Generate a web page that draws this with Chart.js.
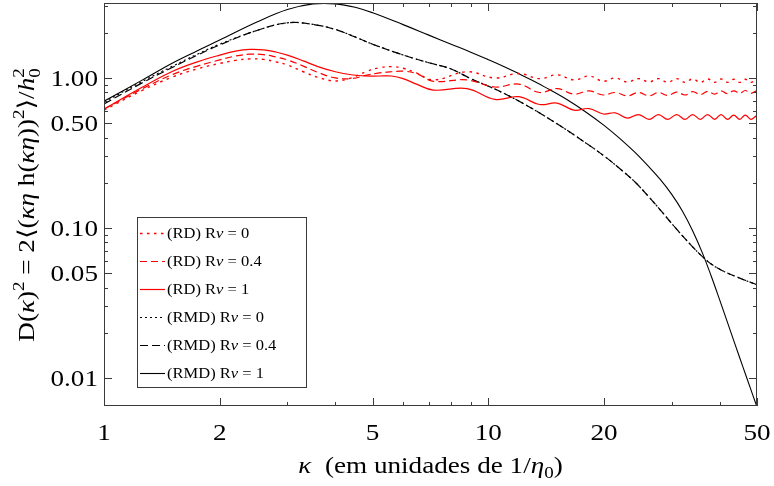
<!DOCTYPE html>
<html>
<head>
<meta charset="utf-8">
<script src="https://cdn.jsdelivr.net/npm/chart.js@4.4.1/dist/chart.umd.min.js"></script>
<style>
  html, body { margin: 0; padding: 0; background: #fff; }
</style>
</head>
<body>
<canvas id="chart" width="774" height="486"></canvas>
<script>
// values (log-log axes)
const kappaRMD = [1, 1.25, 1.5, 1.75, 2, 2.5, 3, 3.5, 4, 4.5, 5, 6, 7, 8, 9, 10, 11, 12, 13, 14, 16, 18, 20, 22, 24, 26, 28, 30, 32, 34, 36, 38, 40, 42, 44, 46, 48, 50];
const rmdNu0  = [0.69, 0.94, 1.19, 1.44, 1.68, 2.073, 2.331, 2.274, 2.105, 1.877, 1.678, 1.423, 1.263, 1.148, 0.989, 0.882, 0.787, 0.701, 0.625, 0.558, 0.449, 0.366, 0.302, 0.248, 0.204, 0.164, 0.132, 0.107, 0.0886, 0.0748, 0.0646, 0.0575, 0.0531, 0.0499, 0.0475, 0.0453, 0.0435, 0.0418];
const rmdNu04 = [0.671, 0.92, 1.17, 1.42, 1.66, 2.073, 2.331, 2.274, 2.105, 1.877, 1.678, 1.423, 1.263, 1.148, 0.989, 0.882, 0.787, 0.701, 0.625, 0.558, 0.449, 0.366, 0.302, 0.248, 0.204, 0.164, 0.132, 0.107, 0.0886, 0.0748, 0.0646, 0.0575, 0.0531, 0.0499, 0.0475, 0.0453, 0.0435, 0.0418];
const rmdNu1  = [0.70, 0.96, 1.25, 1.52, 1.79, 2.36, 2.86, 3.12, 3.12, 2.96, 2.72, 2.267, 1.93, 1.678, 1.486, 1.324, 1.188, 1.068, 0.964, 0.872, 0.718, 0.589, 0.483, 0.394, 0.321, 0.260, 0.2106, 0.1675, 0.1294, 0.0959, 0.0687, 0.0478, 0.0330, 0.0230, 0.0163, 0.01177, 0.00862, 0.0064];

const kappaRD = [1, 1.25, 1.5, 1.75, 2, 2.2, 2.4, 2.6, 2.8, 3, 3.3, 3.6, 4, 4.4, 4.8, 5.2, 5.6, 6.0, 6.5, 7.2, 8.8, 10.4, 12.0, 13.6, 15.1, 16.7, 18.3, 19.9, 21.4, 23.0, 24.6, 26.2, 27.7, 29.3, 30.9, 32.5, 34.0, 35.6, 37.2, 38.8, 40.3, 41.9, 43.5, 45.1, 46.6, 48.2, 49.8, 50];
const rdNu0  = [0.61, 0.82, 1.01, 1.15, 1.25, 1.31, 1.34, 1.33, 1.28, 1.22, 1.10, 1.01, 0.955, 1.00, 1.10, 1.17, 1.19, 1.16, 1.08, 0.97, 1.10, 1.00, 1.07, 0.99, 1.05, 0.97, 1.03, 0.95, 1.00, 0.94, 0.99, 0.94, 0.99, 0.935, 0.99, 0.935, 0.985, 0.935, 0.985, 0.935, 0.985, 0.935, 0.98, 0.935, 0.98, 0.935, 0.975, 0.975];
const rdNu04 = [0.62, 0.84, 1.05, 1.20, 1.32, 1.40, 1.44, 1.43, 1.38, 1.32, 1.20, 1.09, 1.00, 0.99, 1.04, 1.08, 1.10, 1.11, 1.07, 0.95, 0.97, 0.87, 0.91, 0.80, 0.85, 0.78, 0.82, 0.77, 0.80, 0.76, 0.80, 0.76, 0.80, 0.765, 0.805, 0.77, 0.81, 0.775, 0.815, 0.78, 0.82, 0.785, 0.82, 0.79, 0.825, 0.79, 0.82, 0.82];
const rdNu1  = [0.62, 0.86, 1.10, 1.28, 1.42, 1.51, 1.55, 1.54, 1.49, 1.42, 1.30, 1.19, 1.10, 1.05, 1.03, 1.03, 1.03, 0.99, 0.91, 0.83, 0.85, 0.72, 0.75, 0.665, 0.68, 0.61, 0.625, 0.575, 0.585, 0.54, 0.57, 0.53, 0.57, 0.53, 0.57, 0.53, 0.57, 0.53, 0.57, 0.53, 0.57, 0.53, 0.565, 0.53, 0.565, 0.53, 0.56, 0.56];

const seriesLabels = ['(RD) Rν = 0', '(RD) Rν = 0.4', '(RD) Rν = 1', '(RMD) Rν = 0', '(RMD) Rν = 0.4', '(RMD) Rν = 1'];

const xTickVals = [1, 2, 5, 10, 20, 50];
const xTickLabels = ['1', '2', '5', '10', '20', '50'];
const xMinorTicks = [3, 4, 6, 7, 8, 9, 30, 40];
const yTickVals = [0.01, 0.05, 0.1, 0.5, 1];
const yTickLabels = ['0.01', '0.05', '0.10', '0.50', '1.00'];
const yMinorTicks = [0.02, 0.03, 0.04, 0.06, 0.07, 0.08, 0.09, 0.2, 0.3, 0.4, 0.6, 0.7, 0.8, 0.9, 2, 3];

const RED = 'rgb(255,0,0)';
const SX = 1.18; // the serif text in the original is set a bit wide
const SERIF = '"Liberation Serif", "DejaVu Serif", serif';

const pts = (xs, ys) => xs.map((k, i) => ({ x: k, y: ys[i] }));

function partFont(p, size) {
  return (p.it ? 'italic ' : '') + (size * (p.sc || 1)).toFixed(1) + 'px ' + SERIF;
}

// draws a run of text pieces centred at (cx, cy) on the baseline
function drawRich(ctx, parts, size, cx, cy) {
  let w = 0;
  parts.forEach(p => {
    ctx.font = partFont(p, size);
    p.w = ctx.measureText(p.t).width;
    if (!p.keep) w += p.w;
  });
  ctx.save();
  ctx.translate(cx, cy);
  ctx.scale(SX, 1);
  ctx.textAlign = 'left';
  ctx.textBaseline = 'alphabetic';
  let x = -w / 2;
  parts.forEach(p => {
    ctx.font = partFont(p, size);
    ctx.fillText(p.t, x, (p.sh || 0) * size);
    if (!p.keep) x += p.w;
  });
  ctx.restore();
}

const decorations = {
  id: 'decorations',
  afterDatasetsDraw(chart) {
    const { ctx, chartArea: a, scales: { x, y } } = chart;
    ctx.save();

    // frame
    ctx.strokeStyle = '#3a3a3a';
    ctx.lineWidth = 1;
    ctx.strokeRect(a.left + 0.5, a.top + 0.5, a.right - a.left - 1, a.bottom - a.top - 1);

    // ticks, drawn inward on all four sides
    const xt = (v, len) => {
      const px = Math.round(x.getPixelForValue(v)) + 0.5;
      ctx.beginPath();
      ctx.moveTo(px, a.bottom); ctx.lineTo(px, a.bottom - len);
      ctx.moveTo(px, a.top); ctx.lineTo(px, a.top + len);
      ctx.stroke();
    };
    const yt = (v, len) => {
      const py = Math.round(y.getPixelForValue(v)) + 0.5;
      ctx.beginPath();
      ctx.moveTo(a.left, py); ctx.lineTo(a.left + len, py);
      ctx.moveTo(a.right, py); ctx.lineTo(a.right - len, py);
      ctx.stroke();
    };
    xTickVals.forEach(v => xt(v, 8));
    xMinorTicks.forEach(v => xt(v, 4));
    yTickVals.forEach(v => yt(v, 8));
    yMinorTicks.forEach(v => yt(v, 4));

    // tick labels
    ctx.fillStyle = '#000';
    const fs = 23;
    xTickVals.forEach((v, i) => {
      drawRich(ctx, [{ t: xTickLabels[i] }], fs, x.getPixelForValue(v), 440);
    });
    yTickVals.forEach((v, i) => {
      ctx.save();
      ctx.translate(a.left - 6, y.getPixelForValue(v) + 8);
      ctx.scale(SX, 1);
      ctx.font = fs + 'px ' + SERIF;
      ctx.textAlign = 'right';
      ctx.fillText(yTickLabels[i], 0, 0);
      ctx.restore();
    });

    // axis titles
    drawRich(ctx, [
      { t: 'κ', it: true },
      { t: '  (em unidades de 1/' },
      { t: 'η', it: true },
      { t: '0', sc: 0.7, sh: 0.22 },
      { t: ')' }
    ], fs, (a.left + a.right) / 2, 473);

    ctx.save();
    ctx.translate(34, 205);
    ctx.rotate(-Math.PI / 2);
    drawRich(ctx, [
      { t: 'D(' },
      { t: 'κ', it: true },
      { t: ')' },
      { t: '2', sc: 0.7, sh: -0.42 },
      { t: ' = 2⟨(' },
      { t: 'κη', it: true },
      { t: ' h(' },
      { t: 'κη', it: true },
      { t: '))' },
      { t: '2', sc: 0.7, sh: -0.42 },
      { t: '⟩/' },
      { t: 'h', it: true },
      { t: '0', sc: 0.7, sh: 0.25, keep: true },
      { t: '2', sc: 0.7, sh: -0.45 }
    ], fs, 0, 0);
    ctx.restore();

    // legend box
    const lx = 137.5, ly = 217.5, lw = 169, lh = 170;
    ctx.fillStyle = '#fff';
    ctx.fillRect(lx, ly, lw, lh);
    ctx.strokeStyle = '#3a3a3a';
    ctx.strokeRect(lx, ly, lw, lh);
    chart.data.datasets.forEach((ds, i) => {
      const cy = 233 + i * 28;
      ctx.save();
      ctx.strokeStyle = ds.borderColor;
      ctx.lineWidth = ds.borderWidth;
      ctx.setLineDash(ds.borderDash || []);
      ctx.beginPath();
      ctx.moveTo(140, cy + 0.5); ctx.lineTo(165, cy + 0.5);
      ctx.stroke();
      ctx.restore();
      ctx.fillStyle = '#000';
      const [pre, post] = ds.label.split('ν');
      const parts = [{ t: pre }, { t: 'ν', it: true }, { t: post }];
      let w = 0;
      parts.forEach(p => { ctx.font = partFont(p, 14); w += ctx.measureText(p.t).width; });
      drawRich(ctx, parts, 14, 167 + w * SX / 2, cy + 5);
    });

    ctx.restore();
  }
};

new Chart(document.getElementById('chart'), {
  type: 'line',
  data: {
    datasets: [
      { label: seriesLabels[0], data: pts(kappaRD, rdNu0), borderColor: RED, borderWidth: 1.4, borderDash: [2.5, 4.5] },
      { label: seriesLabels[1], data: pts(kappaRD, rdNu04), borderColor: RED, borderWidth: 1.2, borderDash: [7, 4] },
      { label: seriesLabels[2], data: pts(kappaRD, rdNu1), borderColor: RED, borderWidth: 1.2 },
      { label: seriesLabels[3], data: pts(kappaRMD, rmdNu0), borderColor: '#000', borderWidth: 1.2, borderDash: [2, 3] },
      { label: seriesLabels[4], data: pts(kappaRMD, rmdNu04), borderColor: '#000', borderWidth: 1.2, borderDash: [8, 4] },
      { label: seriesLabels[5], data: pts(kappaRMD, rmdNu1), borderColor: '#000', borderWidth: 1.1 }
    ]
  },
  options: {
    responsive: false,
    animation: false,
    devicePixelRatio: 1,
    layout: { padding: { left: 104, right: 17, top: 3, bottom: 80 } },
    plugins: { legend: { display: false }, tooltip: { enabled: false } },
    elements: {
      point: { radius: 0 },
      line: { tension: 0.4, fill: false }
    },
    scales: {
      x: { type: 'logarithmic', min: 1, max: 50, display: false },
      y: { type: 'logarithmic', min: 0.0065, max: 3.16, display: false }
    }
  },
  plugins: [decorations]
});
</script>
</body>
</html>
